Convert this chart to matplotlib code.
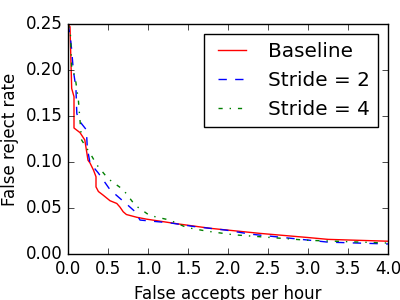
import matplotlib
matplotlib.use("Agg")
import matplotlib.pyplot as plt

plt.style.use('classic')

# Baseline
base_x = [0.0, 0.025, 0.046, 0.075, 0.075, 0.15, 0.21, 0.25, 0.275, 0.32, 0.35, 0.35,
          0.38, 0.44, 0.525, 0.61, 0.65, 0.69, 0.73, 0.86, 0.98, 1.36, 1.78, 2.4,
          3.0, 3.25, 4.0]
base_y = [0.25, 0.247, 0.180, 0.171, 0.137, 0.132, 0.124, 0.102, 0.099, 0.091, 0.084, 0.073,
          0.068, 0.064, 0.058, 0.055, 0.051, 0.046, 0.043, 0.040, 0.038, 0.033, 0.028, 0.0225,
          0.018, 0.016, 0.014]

# Stride = 2
s2_x = [0.0, 0.03, 0.046, 0.066, 0.09, 0.1, 0.11, 0.13, 0.23, 0.24, 0.25, 0.275, 0.38,
        0.525, 0.67, 0.75, 0.84, 0.9, 1.02, 1.27, 1.57, 1.98, 2.28, 3.25, 4.0]
s2_y = [0.25, 0.235, 0.222, 0.200, 0.186, 0.178, 0.153, 0.146, 0.135, 0.117, 0.111, 0.099, 0.088,
        0.070, 0.059, 0.053, 0.046, 0.037, 0.036, 0.034, 0.030, 0.026, 0.0217, 0.013, 0.011]

# Stride = 4
s4_x = [0.0, 0.03, 0.046, 0.09, 0.13, 0.14, 0.17, 0.3, 0.36, 0.5, 0.69, 0.84, 1.02,
        1.27, 1.48, 1.73, 2.07, 3.0, 4.0]
s4_y = [0.25, 0.24, 0.203, 0.192, 0.167, 0.156, 0.124, 0.106, 0.097, 0.082, 0.070, 0.053, 0.042,
        0.037, 0.029, 0.025, 0.021, 0.015, 0.012]

fig = plt.figure(figsize=(4, 3), dpi=100, facecolor='white')
ax = fig.add_axes([0.17, 0.153, 0.80, 0.767])

ax.plot(base_x, base_y, 'r-', label='Baseline')
ax.plot(s2_x, s2_y, 'b--', label='Stride = 2')
ax.plot(s4_x, s4_y, 'g-.', label='Stride = 4')

ax.set_xlim(0, 4)
ax.set_ylim(0, 0.25)
ax.set_xticks([0.0, 0.5, 1.0, 1.5, 2.0, 2.5, 3.0, 3.5, 4.0])
ax.set_yticks([0.0, 0.05, 0.10, 0.15, 0.20, 0.25])
ax.set_yticklabels(['0.00', '0.05', '0.10', '0.15', '0.20', '0.25'])
ax.set_xlabel('False accepts per hour')
ax.set_ylabel('False reject rate')
ax.legend(loc='upper right')

fig.savefig('out.png', dpi=100, facecolor='white')
